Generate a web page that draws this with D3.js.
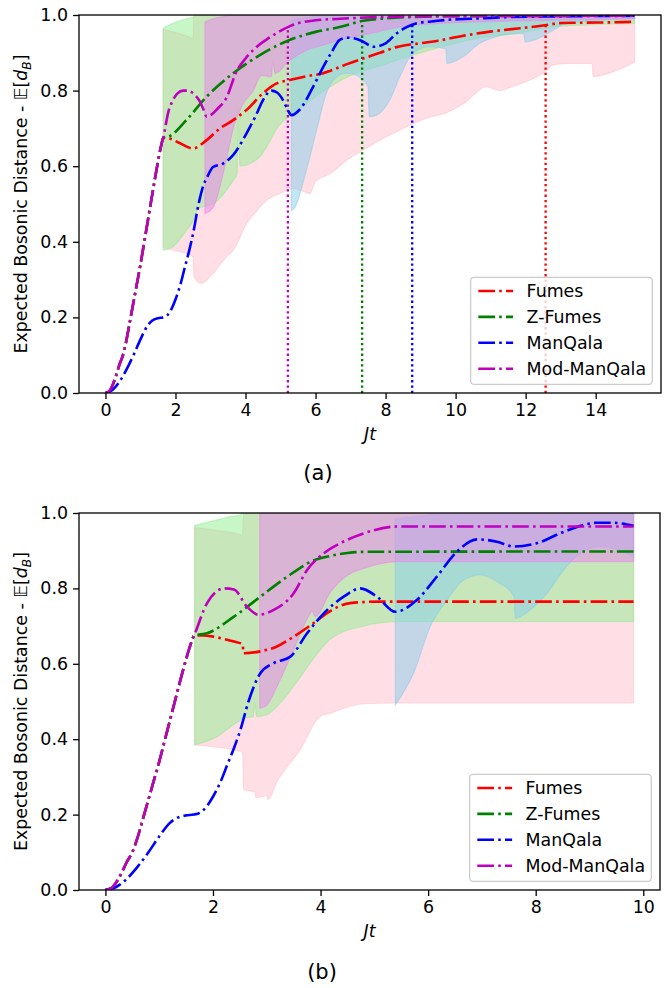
<!DOCTYPE html>
<meta charset="utf-8">
<style>
  body { margin: 0; background: #fff; }
  svg text { font-family: "DejaVu Sans", sans-serif; }
</style>
<svg width="670" height="988"></svg>
<script src="https://d3js.org/d3.v7.min.js"></script>
<script>

// shared early rise (t, value) - all series except ManQala follow it up to Jt ~ 1.65
var rise = [[0,0],[0.1,0.004],[0.2,0.02],[0.3,0.045],[0.4,0.075],[0.5,0.1],[0.6,0.14],[0.7,0.19],
            [0.8,0.24],[0.9,0.29],[1.0,0.34],[1.1,0.395],[1.2,0.45],[1.3,0.505],[1.4,0.56],
            [1.5,0.612],[1.6,0.658],[1.65,0.675]];

var names = ["Fumes", "Z-Fumes", "ManQala", "Mod-ManQala"];

// ---- panel (a) lines ----
var fumesA = rise.concat([[1.84,0.673],[2.1,0.662],[2.5,0.647],[2.89,0.669],[3.27,0.7],[3.65,0.722],
    [4.03,0.749],[4.5,0.793],[4.89,0.819],[5.26,0.828],[5.74,0.838],[6.22,0.846],[6.41,0.852],
    [6.9,0.87],[7.36,0.885],[7.84,0.9],[8.31,0.915],[8.98,0.925],[9.5,0.932],[10.22,0.945],
    [10.98,0.956],[11.84,0.965],[12.5,0.972],[13.03,0.979],[14.03,0.98],[15.11,0.982]]);
var zfumesA = rise.concat([[1.84,0.68],[2.31,0.722],[2.89,0.784],[3.65,0.846],[4.41,0.894],
    [5.26,0.934],[6.03,0.956],[6.69,0.968],[7.36,0.985],[8.0,0.991],[8.79,0.995],[10,0.997],[15.11,0.998]]);
var manqalaA = [[0,0],[0.2,0.008],[0.4,0.03],[0.6,0.062],[0.8,0.1],[1.0,0.142],[1.2,0.178],[1.33,0.191],
    [1.5,0.198],[1.64,0.2],[1.76,0.205],[1.9,0.225],[2.01,0.25],[2.15,0.29],[2.26,0.33],[2.4,0.38],
    [2.51,0.425],[2.66,0.5],[2.8,0.55],[2.9,0.57],[3.07,0.598],[3.36,0.607],[3.65,0.63],[4.03,0.687],
    [4.3,0.735],[4.5,0.775],[4.74,0.8],[4.9,0.795],[5.07,0.775],[5.2,0.75],[5.31,0.735],[5.55,0.75],
    [5.93,0.81],[6.22,0.863],[6.45,0.9],[6.69,0.934],[6.9,0.94],[7.12,0.938],[7.35,0.93],[7.65,0.916],
    [8.0,0.925],[8.31,0.951],[8.6,0.968],[8.89,0.978],[9.3,0.983],[9.74,0.987],[10.69,0.991],
    [11.65,0.995],[12.5,0.996],[13.5,0.997],[15.11,0.998]];
var modA = rise.concat([[1.8,0.745],[1.93,0.775],[2.05,0.792],[2.22,0.8],[2.35,0.8],[2.5,0.793],
    [2.69,0.772],[2.8,0.75],[2.89,0.731],[3.05,0.738],[3.2,0.752],[3.45,0.78],[3.74,0.85],[4.0,0.885],
    [4.27,0.912],[4.6,0.935],[5.0,0.958],[5.3,0.972],[6.0,0.986],[6.7,0.99],[8,0.995],[10,0.997],[15.11,0.998]]);

// ---- panel (a) bands: [t, low, high] ----
var fumesBandA = [[1.65,0.385,0.962],[1.93,0.378,0.955],[2.31,0.369,0.945],[2.5,0.36,0.937],
    [2.53,0.307,1],[2.74,0.29,1],[3.07,0.316,1],[3.45,0.36,1],[3.65,0.378,1],[4.03,0.448,1],
    [4.3,0.48,1],[4.6,0.51,1],[4.98,0.528,1],[5.33,0.541,1],[5.6,0.535,1],[5.84,0.528,1],[6.0,0.56,1],
    [6.41,0.58,1],[6.89,0.616,1],[7.36,0.643,1],[7.84,0.669,1],[8.31,0.691,1],[8.79,0.713,1],
    [9.17,0.727,1],[9.7,0.74,1],[10.22,0.765,1],[10.88,0.81,1],[11.26,0.8,1],[11.6,0.81,1],
    [12.12,0.828,1],[12.5,0.846,1],[12.79,0.868,1],[13.17,0.872,1],[13.9,0.872,1],[13.93,0.837,1],
    [14.5,0.85,1],[15.11,0.875,1]];
var zfumesBandA = [[1.65,0.378,0.965],[1.93,0.387,0.978],[2.31,0.43,0.99],[2.5,0.457,0.994],
    [2.53,0.465,1],[2.69,0.49,1],[3.07,0.5,1],[3.65,0.563,1],[3.76,0.58,1],[3.79,0.72,1],[3.84,0.6,1],
    [4.41,0.625,1],[4.98,0.71,1],[5.3,0.735,1],[5.8,0.77,1],[6.41,0.81,1],[7.0,0.84,1],[8.0,0.87,1],
    [9.0,0.9,1],[10.0,0.925,1],[10.7,0.94,1],[11.5,0.948,1],[13.0,0.97,1],[15.11,0.978,1]];
var manqalaBandA = [[5.31,0.483,0.985],[5.4,0.49,0.988],[5.74,0.59,0.993],[6.03,0.695,0.997],
    [6.31,0.793,1],[6.55,0.832,1],[6.89,0.846,1],[7.17,0.84,1],[7.5,0.81,1],[7.53,0.731,1],
    [7.74,0.735,1],[8.12,0.775,1],[8.41,0.837,1],[8.7,0.89,1],[8.98,0.91,1],[9.27,0.916,1],
    [9.72,0.91,1],[9.75,0.872,1],[10.22,0.89,1],[10.69,0.925,1],[11.07,0.94,1],[11.55,0.95,1],
    [11.95,0.951,1],[11.98,0.929,1],[12.28,0.935,1],[12.79,0.96,1],[13.08,0.975,1],[14.0,0.985,1],
    [15.11,0.99,1]];
var modBandA = [[2.84,0.475,0.982],[3.07,0.49,0.99],[3.45,0.616,0.997],[3.65,0.7,1],[3.9,0.76,1],
    [4.22,0.8,1],[4.46,0.84,1],[4.74,0.837,1],[4.78,0.88,1],[4.84,0.845,1],[5.26,0.88,1],
    [5.74,0.907,1],[6.2,0.92,1],[6.69,0.934,1],[7.5,0.95,1],[8.5,0.97,1],[10,0.98,1],[12,0.985,1],
    [15.11,0.99,1]];

// convergence markers in (a), one per series
var markerA = [12.57, 7.33, 8.76, 5.21];

// ---- panel (b) lines ----
var fumesB = rise.concat([[1.8,0.675],[2.01,0.672],[2.2,0.666],[2.39,0.659],[2.55,0.652],[2.57,0.628],
    [2.88,0.633],[3.19,0.646],[3.5,0.672],[3.87,0.708],[4.18,0.74],[4.55,0.761],[5.11,0.765],[9.82,0.765]]);
var zfumesB = rise.concat([[1.89,0.681],[2.39,0.725],[2.88,0.778],[3.38,0.831],[3.87,0.874],
    [4.18,0.886],[4.5,0.894],[4.8,0.897],[9.82,0.898]]);
var manqalaB = [[0,0],[0.2,0.008],[0.4,0.03],[0.6,0.062],[0.8,0.1],[1.0,0.142],[1.2,0.178],[1.33,0.191],
    [1.5,0.198],[1.64,0.2],[1.76,0.205],[1.9,0.225],[2.01,0.25],[2.15,0.29],[2.26,0.33],[2.4,0.38],
    [2.51,0.425],[2.66,0.5],[2.88,0.575],[3.13,0.602],[3.44,0.619],[3.75,0.681],[4.06,0.734],
    [4.43,0.778],[4.74,0.8],[5.05,0.778],[5.39,0.738],[5.79,0.769],[6.16,0.831],[6.54,0.898],
    [6.91,0.93],[7.28,0.924],[7.59,0.911],[8.02,0.92],[8.52,0.95],[9.14,0.974],[9.45,0.974],[9.82,0.966]];
var modB = rise.concat([[1.89,0.761],[2.05,0.79],[2.2,0.8],[2.39,0.797],[2.63,0.752],[2.85,0.73],
    [3.13,0.743],[3.5,0.787],[3.75,0.849],[4.06,0.893],[4.37,0.92],[4.8,0.946],[5.42,0.964],[9.82,0.964]]);

// ---- panel (b) bands ----
var fumesBandB = [[1.66,0.385,0.962],[2.0,0.38,0.955],[2.39,0.372,0.947],[2.55,0.365,0.942],
    [2.57,0.266,1],[2.78,0.26,1],[2.8,0.245,1],[3.0,0.25,1],[3.02,0.24,1],[3.2,0.29,1],[3.62,0.372,1],
    [3.99,0.46,1],[4.18,0.469,1],[4.8,0.494,1],[5.42,0.496,1],[9.82,0.496,1]];
var zfumesBandB = [[1.66,0.385,0.967],[2.08,0.407,0.982],[2.3,0.43,0.99],[2.51,0.451,0.995],
    [2.55,0.455,1],[2.75,0.46,1],[2.78,0.5,1],[2.81,0.46,1],[3.0,0.465,1],[3.3,0.504,1],[3.6,0.56,1],
    [3.9,0.62,1],[4.18,0.665,1],[4.8,0.7,1],[5.42,0.712,1],[9.82,0.712,1]];
var manqalaBandB = [[5.39,0.491,0.985],[5.73,0.575,0.99],[6.04,0.699,0.995],[6.35,0.769,1],
    [6.66,0.822,1],[6.97,0.836,1],[7.28,0.818,1],[7.6,0.778,1],[7.62,0.721,1],[7.9,0.743,1],
    [8.21,0.787,1],[8.52,0.849,1],[8.83,0.893,1],[9.14,0.911,1],[9.45,0.906,1],[9.82,0.884,1]];
var modBandB = [[2.87,0.482,1],[3.0,0.49,1],[3.19,0.54,1],[3.5,0.637,1],[3.81,0.734,1],[3.84,0.74,1],
    [3.9,0.725,1],[4.18,0.79,1],[4.5,0.835,1],[4.8,0.853,1],[5.42,0.871,1],[9.82,0.871,1]];

var xTicksA = [0, 2, 4, 6, 8, 10, 12, 14];
var xTicksB = [0, 2, 4, 6, 8, 10];
var yTicks = [0, 0.2, 0.4, 0.6, 0.8, 1.0];

var lineColors = ["#ff0000", "#008000", "#0000ff", "#bf00bf"];
var bandColors = ["#ffc0cb", "#90ee90", "#87ceeb", "#ee82ee"];
var FS = 17.4;
var DASH = "16.7,4.2,2.6,4.2";

var svg = d3.select("svg");

function drawPanel(cfg) {
    var tmax = d3.max(cfg.series[0], function(d) { return d[0]; });
    var x = d3.scaleLinear().domain([-0.05 * tmax, 1.05 * tmax]).range([cfg.left, cfg.right]);
    var y = d3.scaleLinear().domain([0, 1]).range([cfg.bottom, cfg.top]);

    var g = svg.append("g");
    g.append("clipPath").attr("id", "clip-" + cfg.id)
        .append("rect")
        .attr("x", cfg.left).attr("y", cfg.top)
        .attr("width", cfg.right - cfg.left).attr("height", cfg.bottom - cfg.top);

    var plot = g.append("g").attr("clip-path", "url(#clip-" + cfg.id + ")");

    var area = d3.area()
        .x(function(d) { return x(d[0]); })
        .y0(function(d) { return y(d[1]); })
        .y1(function(d) { return y(d[2]); })
        .curve(d3.curveMonotoneX);

    cfg.bands.forEach(function(b, i) {
        plot.append("path")
            .attr("d", area(b))
            .attr("fill", bandColors[i]).attr("fill-opacity", 0.5)
            .attr("stroke", bandColors[i]).attr("stroke-opacity", 0.5).attr("stroke-width", 1.2);
    });

    var line = d3.line()
        .x(function(d) { return x(d[0]); })
        .y(function(d) { return y(d[1]); })
        .curve(d3.curveMonotoneX);

    // dotted markers: from 0 up to the series value at that time
    (cfg.markers || []).forEach(function(t, i) {
        var s = cfg.series[i];
        var k = d3.bisector(function(d) { return d[0]; }).left(s, t);
        var a = s[k - 1], b = s[k];
        var v = a[1] + (b[1] - a[1]) * (t - a[0]) / (b[0] - a[0]);
        plot.append("line")
            .attr("x1", x(t)).attr("x2", x(t))
            .attr("y1", y(0)).attr("y2", y(v))
            .attr("stroke", lineColors[i]).attr("stroke-width", 2.3)
            .attr("stroke-dasharray", "2.3,3");
    });

    cfg.series.forEach(function(s, i) {
        plot.append("path")
            .attr("d", line(s))
            .attr("fill", "none")
            .attr("stroke", lineColors[i]).attr("stroke-width", 2.6)
            .attr("stroke-dasharray", DASH);
    });

    // axes
    var xAxis = g.append("g")
        .attr("transform", "translate(0," + cfg.bottom + ")")
        .call(d3.axisBottom(x).tickValues(cfg.xticks).tickSize(6).tickPadding(5).tickFormat(d3.format("d")));
    var yAxis = g.append("g")
        .attr("transform", "translate(" + cfg.left + ",0)")
        .call(d3.axisLeft(y).tickValues(yTicks).tickSize(6).tickPadding(5).tickFormat(d3.format(".1f")));
    [xAxis, yAxis].forEach(function(ax) {
        ax.select(".domain").remove();
        ax.attr("font-family", "DejaVu Sans").attr("font-size", FS);
        ax.selectAll(".tick line").attr("stroke", "#000").attr("stroke-width", 1.3);
        ax.selectAll(".tick text").attr("fill", "#000");
    });

    g.append("rect")
        .attr("x", cfg.left).attr("y", cfg.top)
        .attr("width", cfg.right - cfg.left).attr("height", cfg.bottom - cfg.top)
        .attr("fill", "none").attr("stroke", "#000").attr("stroke-width", 1.3);

    // axis labels
    var yl = g.append("text")
        .attr("transform", "translate(21," + ((cfg.top + cfg.bottom) / 2) + ") rotate(-90)")
        .attr("text-anchor", "middle")
        .attr("dy", "0.35em")
        .attr("font-size", FS);
    yl.append("tspan").text("Expected Bosonic Distance - ");
    yl.append("tspan").text("\uD835\uDD3C[");
    yl.append("tspan").attr("font-style", "italic").text("d");
    yl.append("tspan").attr("font-style", "italic").attr("font-size", FS * 0.7).attr("dy", "0.3em").text("B");
    yl.append("tspan").attr("dy", "-0.21em").text("]");

    g.append("text")
        .attr("x", (cfg.left + cfg.right) / 2).attr("y", cfg.bottom + 47)
        .attr("text-anchor", "middle")
        .attr("font-size", FS).attr("font-style", "italic")
        .text("Jt");

    g.append("text")
        .attr("x", cfg.capX).attr("y", cfg.capY)
        .attr("text-anchor", "middle")
        .attr("font-size", 21)
        .text(cfg.caption);

    // legend, lower right
    var lw = 181.7, lh = 107, pad = 8.7;
    var lx = cfg.right - pad - lw, ly = cfg.bottom - pad - lh;
    var lg = g.append("g");
    lg.append("rect")
        .attr("x", lx).attr("y", ly).attr("width", lw).attr("height", lh)
        .attr("rx", 3.5)
        .attr("fill", "#fff").attr("fill-opacity", 0.8)
        .attr("stroke", "#cccccc").attr("stroke-width", 1.3);
    names.forEach(function(n, i) {
        var ry = ly + 13.7 + i * 25.9;
        lg.append("line")
            .attr("x1", lx + 7.7).attr("x2", lx + 42.5)
            .attr("y1", ry).attr("y2", ry)
            .attr("stroke", lineColors[i]).attr("stroke-width", 2.6)
            .attr("stroke-dasharray", DASH);
        lg.append("text")
            .attr("x", lx + 56).attr("y", ry)
            .attr("dy", "0.36em")
            .attr("font-size", FS)
            .text(n);
    });
}

drawPanel({
    id: "a", left: 79, right: 661, top: 15, bottom: 393,
    series: [fumesA, zfumesA, manqalaA, modA],
    bands: [fumesBandA, zfumesBandA, manqalaBandA, modBandA],
    markers: markerA,
    xticks: xTicksA, caption: "(a)", capX: 318, capY: 480
});

drawPanel({
    id: "b", left: 79, right: 660, top: 513, bottom: 890,
    series: [fumesB, zfumesB, manqalaB, modB],
    bands: [fumesBandB, zfumesBandB, manqalaBandB, modBandB],
    xticks: xTicksB, caption: "(b)", capX: 322, capY: 979
});

</script>
